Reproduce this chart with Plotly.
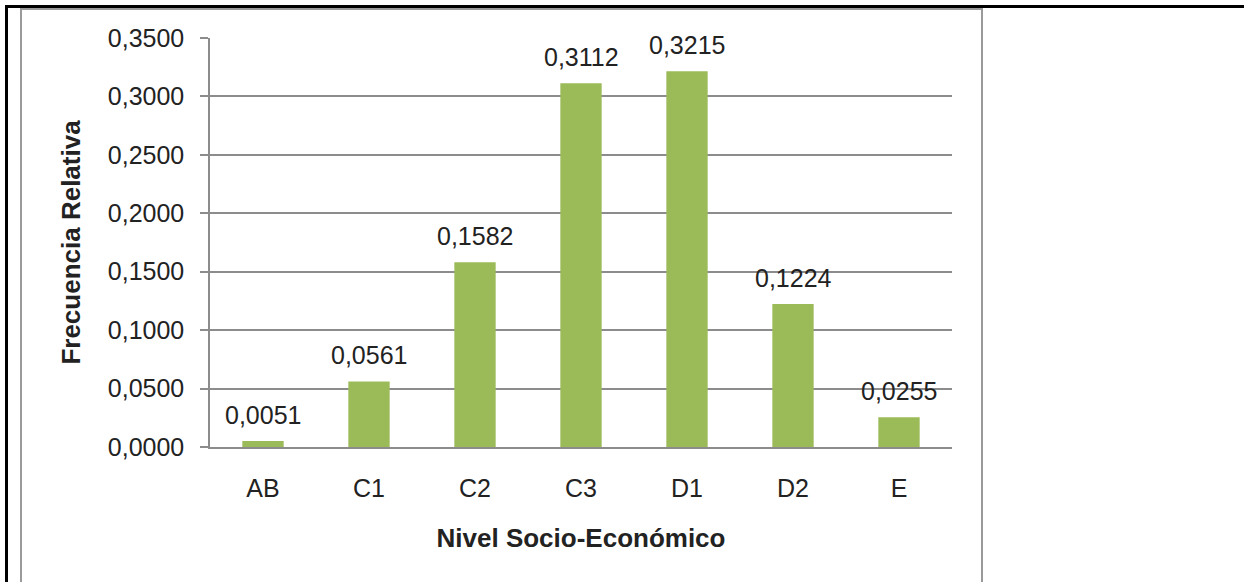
import plotly.graph_objects as go

categories = ["AB", "C1", "C2", "C3", "D1", "D2", "E"]
values = [0.0051, 0.0561, 0.1582, 0.3112, 0.3215, 0.1224, 0.0255]
y_ticks = [0.0, 0.05, 0.10, 0.15, 0.20, 0.25, 0.30, 0.35]

W, H = 1244, 582
L, R, T, B = 210, 952, 38, 447  # plot area in pixels

def px(x):
    return (x - L) / (R - L)

def py(y):
    return (B - y) / (B - T)

txt = "#222222"

fig = go.Figure()
fig.add_trace(go.Bar(
    x=categories, y=values,
    marker=dict(color="#9BBB59", line=dict(width=0)),
    hoverinfo="x+y",
))

for c, v in zip(categories, values):
    fig.add_annotation(
        x=c, y=v, xref="x", yref="y",
        text=f"{v:.4f}".replace(".", ","),
        showarrow=False, yanchor="bottom", yshift=10,
        font=dict(family="Arial, Liberation Sans", size=25, color=txt),
    )

grey = "#8c8c8c"
shapes = [
    # outer grey chart border
    dict(type="rect", xref="paper", yref="paper",
         x0=px(21), x1=px(982), y0=py(590), y1=py(9),
         line=dict(color="#9a9a9a", width=2), fillcolor="rgba(0,0,0,0)", layer="below"),
    # black table lines
    dict(type="line", xref="paper", yref="paper",
         x0=px(5), x1=px(1250), y0=py(6.5), y1=py(6.5),
         line=dict(color="#000000", width=3)),
    dict(type="line", xref="paper", yref="paper",
         x0=px(6.5), x1=px(6.5), y0=py(5), y1=py(590),
         line=dict(color="#000000", width=3)),
]

fig.update_layout(
    width=W, height=H,
    margin=dict(l=L, r=W - R, t=T, b=H - B, autoexpand=False),
    paper_bgcolor="white", plot_bgcolor="white",
    separators=",.",
    bargap=0.61,
    showlegend=False,
    shapes=shapes,
    font=dict(family="Arial, Liberation Sans", size=24, color=txt),
    xaxis=dict(
        type="category",
        showline=True, linecolor=grey, linewidth=1.5,
        ticks="", showgrid=False,
        tickfont=dict(size=25, color=txt),
        ticklabelstandoff=18,
        title=dict(text="<b>Nivel Socio-Económico</b>",
                   font=dict(size=26, color=txt), standoff=28),
    ),
    yaxis=dict(
        range=[0, 0.35], tickvals=y_ticks, tickformat=".4f",
        showline=True, linecolor=grey, linewidth=1.5,
        ticks="outside", ticklen=8, tickcolor=grey, tickwidth=1.5,
        showgrid=True, gridcolor=grey, gridwidth=1.5,
        zeroline=False,
        tickfont=dict(size=25, color=txt),
        ticklabelstandoff=11,
        title=dict(text="<b>Frecuencia Relativa</b>",
                   font=dict(size=26, color=txt), standoff=20),
    ),
)

fig.write_html("out.html", config={"displayModeBar": False},
               post_script="document.body.style.margin='0px';")
